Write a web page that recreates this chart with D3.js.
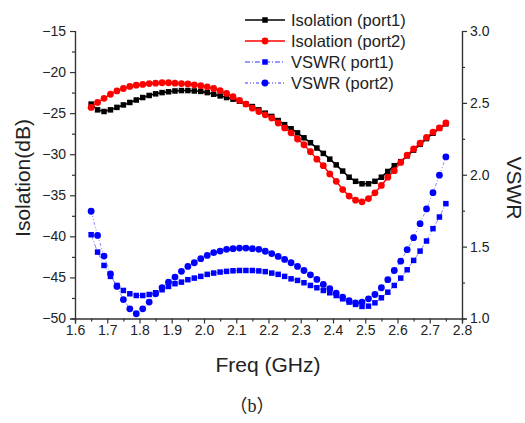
<!DOCTYPE html>
<html>
<head>
<meta charset="utf-8">
<script src="https://cdn.jsdelivr.net/npm/d3@7"></script>
<style>
  html, body { margin: 0; padding: 0; background: #fff; }
  svg { display: block; }
  text { font-family: "Liberation Sans", Arial, sans-serif; fill: #222; }
</style>
</head>
<body>
<script>
// frequency points (GHz)
var freq = [1.65, 1.67, 1.69, 1.71, 1.73, 1.75, 1.77, 1.79, 1.81, 1.83, 1.85, 1.87, 1.89, 1.91,
  1.93, 1.95, 1.97, 1.99, 2.01, 2.03, 2.05, 2.07, 2.09, 2.11, 2.13, 2.15, 2.17, 2.19,
  2.21, 2.23, 2.25, 2.27, 2.29, 2.31, 2.33, 2.35, 2.37, 2.39, 2.41, 2.43, 2.45, 2.47,
  2.49, 2.51, 2.53, 2.55, 2.57, 2.59, 2.61, 2.63, 2.65, 2.67, 2.69, 2.71, 2.73, 2.75];

// isolation (dB), left axis
var isoPort1 = [-23.9, -24.6, -24.8, -24.6, -24.3, -24.0, -23.7, -23.4, -23.1, -22.85, -22.65, -22.5, -22.4, -22.3,
  -22.25, -22.25, -22.3, -22.35, -22.5, -22.7, -22.9, -23.1, -23.3, -23.55, -23.9, -24.2, -24.6, -25.0,
  -25.4, -25.9, -26.4, -26.9, -27.4, -28.0, -28.6, -29.25, -29.9, -30.6, -31.3, -32.05, -32.8, -33.3,
  -33.6, -33.6, -33.3, -32.8, -32.1, -31.4, -30.9, -30.2, -29.5, -28.8, -28.1, -27.45, -26.85, -26.3];
var isoPort2 = [-24.3, -23.7, -23.2, -22.7, -22.3, -22.0, -21.75, -21.6, -21.5, -21.4, -21.35, -21.3, -21.3, -21.35,
  -21.4, -21.45, -21.55, -21.65, -21.8, -22.0, -22.25, -22.6, -23.0, -23.45, -23.9, -24.4, -24.8, -25.2,
  -25.6, -26.2, -26.8, -27.4, -28.15, -28.85, -29.7, -30.6, -31.4, -32.4, -33.3, -34.3, -35.1, -35.6,
  -35.8, -35.4, -34.7, -33.8, -32.8, -32.0, -31.0, -30.1, -29.35, -28.65, -27.95, -27.3, -26.8, -26.2];

// VSWR, right axis
var vswrPort1 = [1.583, 1.462, 1.369, 1.293, 1.230, 1.195, 1.172, 1.160, 1.160, 1.167, 1.179, 1.200, 1.223, 1.242,
  1.253, 1.270, 1.281, 1.293, 1.307, 1.316, 1.323, 1.328, 1.332, 1.334, 1.334, 1.334, 1.331, 1.326,
  1.316, 1.307, 1.293, 1.276, 1.265, 1.249, 1.230, 1.214, 1.195, 1.179, 1.160, 1.137, 1.114, 1.098,
  1.084, 1.086, 1.109, 1.144, 1.183, 1.230, 1.281, 1.339, 1.404, 1.469, 1.539, 1.625, 1.706, 1.799];
var vswrPort2 = [1.746, 1.578, 1.434, 1.311, 1.223, 1.132, 1.067, 1.033, 1.067, 1.114, 1.172, 1.214, 1.253, 1.288,
  1.328, 1.362, 1.388, 1.416, 1.439, 1.458, 1.469, 1.481, 1.486, 1.490, 1.490, 1.486, 1.481, 1.468,
  1.451, 1.432, 1.411, 1.388, 1.362, 1.334, 1.304, 1.272, 1.237, 1.207, 1.176, 1.148, 1.125, 1.109,
  1.114, 1.137, 1.167, 1.214, 1.270, 1.334, 1.399, 1.479, 1.562, 1.660, 1.762, 1.875, 1.997, 2.124];

var xTicks = [1.6, 1.7, 1.8, 1.9, 2.0, 2.1, 2.2, 2.3, 2.4, 2.5, 2.6, 2.7, 2.8];
var yLeftTicks = [-15, -20, -25, -30, -35, -40, -45, -50];
var yRightTicks = [1.0, 1.5, 2.0, 2.5, 3.0];
var legendLabels = ["Isolation (port1)", "Isolation (port2)", "VSWR( port1)", "VSWR (port2)"];

var width = 525, height = 423;
var svg = d3.select("body").append("svg")
    .attr("width", width)
    .attr("height", height);

var x = d3.scaleLinear().domain([1.6, 2.8]).range([75, 462]);
var yL = d3.scaleLinear().domain([-50, -15]).range([318.5, 31]);
var yR = d3.scaleLinear().domain([1, 3]).range([318.5, 31]);

// minor ticks
var xMinor = xTicks.slice(0, -1).map(function (d) { return d + 0.05; });
var yLeftMinor = yLeftTicks.slice(1).map(function (d) { return d + 2.5; });
var yRightMinor = yRightTicks.slice(0, -1).map(function (d) { return d + 0.25; });

function styleAxis(g) {
    g.attr("font-size", 14).attr("font-family", "'Liberation Sans', Arial, sans-serif");
    g.selectAll("path.domain").attr("stroke", "#333").attr("stroke-width", 1.2);
    g.selectAll(".tick line").attr("stroke", "#333").attr("stroke-width", 1.2);
    g.selectAll("text").attr("fill", "#222");
}

svg.append("g")
    .attr("transform", "translate(0,318.5)")
    .call(d3.axisBottom(x).tickValues(xMinor).tickSize(3).tickFormat(""))
    .call(styleAxis);
svg.append("g")
    .attr("transform", "translate(0,318.5)")
    .call(d3.axisBottom(x).tickValues(xTicks).tickSize(5).tickPadding(2).tickFormat(d3.format(".1f")))
    .call(styleAxis);

svg.append("g")
    .attr("transform", "translate(75,0)")
    .call(d3.axisLeft(yL).tickValues(yLeftMinor).tickSize(3).tickFormat(""))
    .call(styleAxis);
svg.append("g")
    .attr("transform", "translate(75,0)")
    .call(d3.axisLeft(yL).tickValues(yLeftTicks).tickSize(5).tickPadding(4).tickFormat(d3.format("d")))
    .call(styleAxis);

svg.append("g")
    .attr("transform", "translate(462,0)")
    .call(d3.axisRight(yR).tickValues(yRightMinor).tickSize(3).tickFormat(""))
    .call(styleAxis);
svg.append("g")
    .attr("transform", "translate(462,0)")
    .call(d3.axisRight(yR).tickValues(yRightTicks).tickSize(5).tickPadding(3).tickFormat(d3.format(".1f")))
    .call(styleAxis);

// axis titles
svg.append("text")
    .attr("transform", "translate(30,178) rotate(-90)")
    .attr("text-anchor", "middle")
    .style("font-size", "21px")
    .text("Isolation(dB)");
svg.append("text")
    .attr("transform", "translate(507,188) rotate(90)")
    .attr("text-anchor", "middle")
    .style("font-size", "21px")
    .text("VSWR");
svg.append("text")
    .attr("x", 268)
    .attr("y", 372)
    .attr("text-anchor", "middle")
    .style("font-size", "21px")
    .text("Freq (GHz)");

// caption: full-width brackets with a serif b
var caption = svg.append("text")
    .attr("x", 252)
    .attr("y", 412)
    .attr("text-anchor", "middle")
    .style("font-size", "18px");
caption.append("tspan").style("font-family", "'Noto Sans CJK SC', sans-serif").text("（");
caption.append("tspan").style("font-family", "'Liberation Serif', serif").text("b");
caption.append("tspan").style("font-family", "'Noto Sans CJK SC', sans-serif").text("）");

var series = [
    {vals: isoPort1, y: yL, color: "#000", width: 1.6, dash: null, shape: "square", size: 5.5},
    {vals: isoPort2, y: yL, color: "#ff0000", width: 1.4, dash: null, shape: "circle", size: 3.4},
    {vals: vswrPort1, y: yR, color: "#0000ff", width: 0.8, dash: "5,2,1,2", shape: "square", size: 5.5},
    {vals: vswrPort2, y: yR, color: "#0000ff", width: 0.8, dash: "3,2,1,2,1,2", shape: "circle", size: 3.4}
];

series.forEach(function (s) {
    var pts = freq.map(function (f, i) { return [f, s.vals[i]]; });
    var line = d3.line()
        .x(function (d) { return x(d[0]); })
        .y(function (d) { return s.y(d[1]); });
    svg.append("path")
        .datum(pts)
        .attr("d", line)
        .attr("fill", "none")
        .attr("stroke", s.color)
        .attr("stroke-width", s.width)
        .attr("stroke-dasharray", s.dash)
        .attr("stroke-opacity", s.dash ? 0.6 : 1);
    drawMarkers(svg.append("g"), pts.map(function (d) { return [x(d[0]), s.y(d[1])]; }), s);
});

function drawMarkers(g, pts, s) {
    if (s.shape === "square") {
        g.selectAll("rect").data(pts).enter().append("rect")
            .attr("x", function (d) { return d[0] - s.size / 2; })
            .attr("y", function (d) { return d[1] - s.size / 2; })
            .attr("width", s.size)
            .attr("height", s.size)
            .attr("fill", s.color);
    } else {
        g.selectAll("circle").data(pts).enter().append("circle")
            .attr("cx", function (d) { return d[0]; })
            .attr("cy", function (d) { return d[1]; })
            .attr("r", s.size)
            .attr("fill", s.color);
    }
}

// legend
var legendRows = [20, 41, 62, 83];
series.forEach(function (s, i) {
    var yy = legendRows[i];
    svg.append("line")
        .attr("x1", 245).attr("x2", 285)
        .attr("y1", yy).attr("y2", yy)
        .attr("stroke", s.color)
        .attr("stroke-width", s.dash ? 1 : 1.6)
        .attr("stroke-dasharray", s.dash)
        .attr("stroke-opacity", s.dash ? 0.8 : 1);
    drawMarkers(svg.append("g"), [[265, yy]], s);
    svg.append("text")
        .attr("x", 291)
        .attr("y", yy + 6)
        .style("font-size", "16.5px")
        .text(legendLabels[i]);
});
</script>
</body>
</html>
